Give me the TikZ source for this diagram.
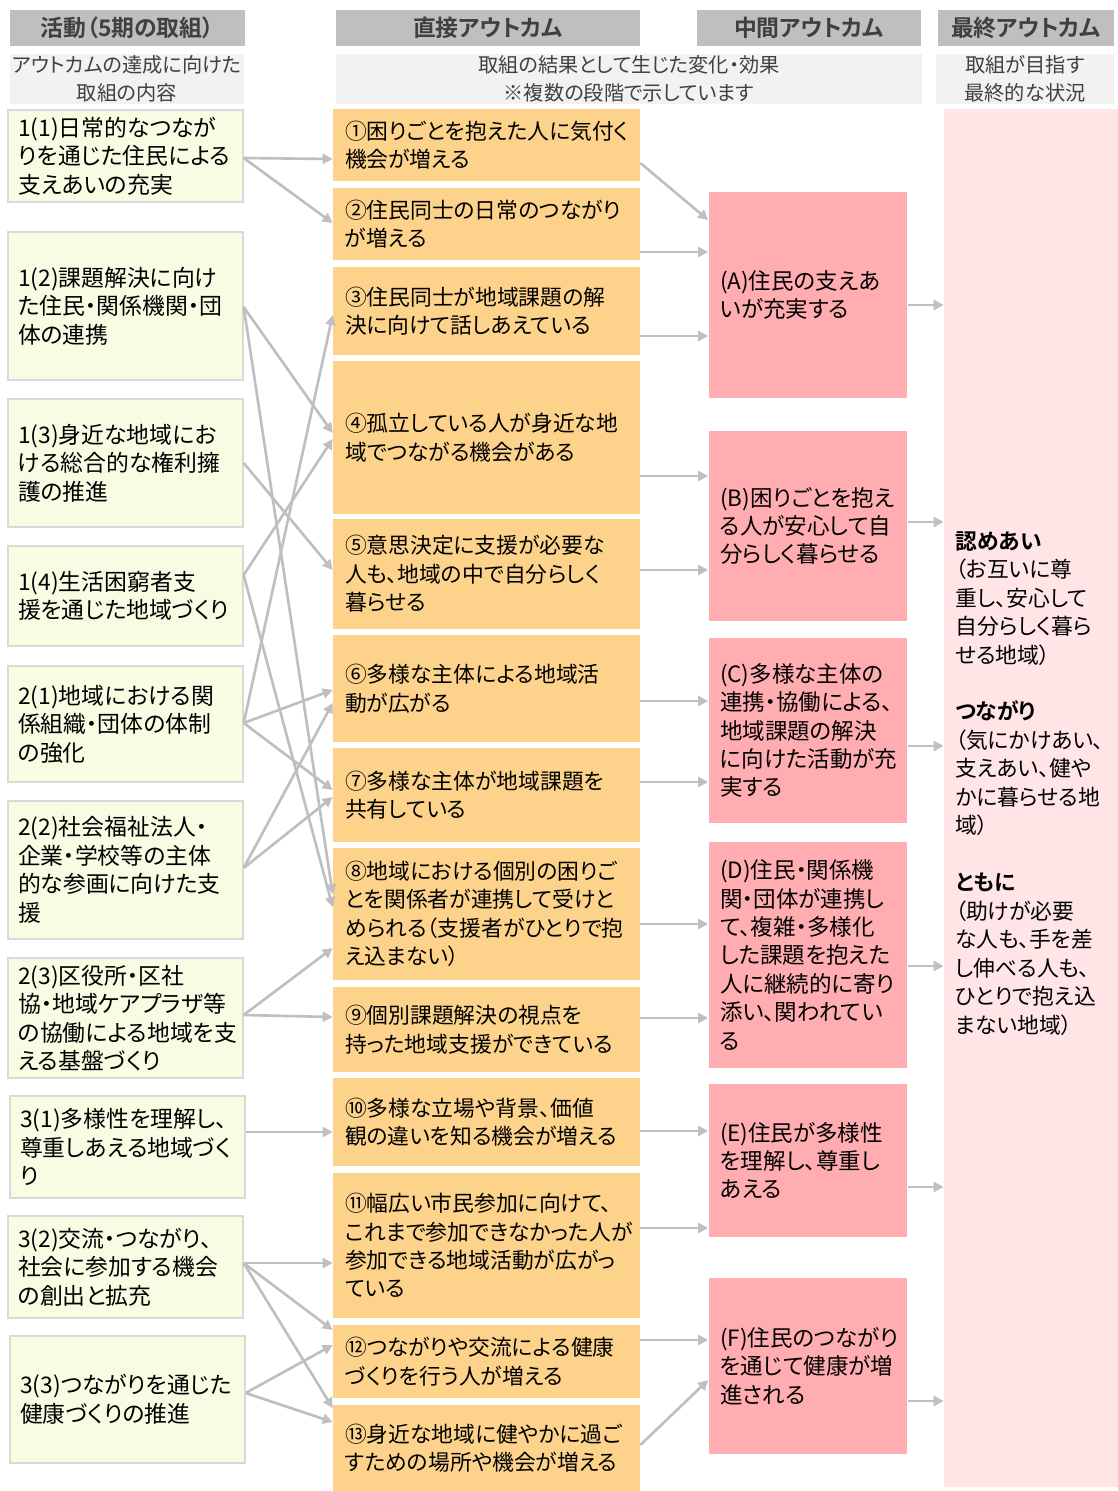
\documentclass[tikz,border=0pt]{standalone}
\usepackage{fontspec}
\setmainfont{Noto Sans CJK JP}[RawFeature=+palt, BoldFont={Noto Sans CJK JP Bold}]
\usetikzlibrary{arrows.meta}

\definecolor{hdgray}{HTML}{BFBFBF}
\definecolor{subgray}{HTML}{F2F2F2}
\definecolor{actfill}{HTML}{F8FCE3}
\definecolor{actline}{HTML}{D9D9D9}
\definecolor{dirfill}{HTML}{FDD38B}
\definecolor{midfill}{HTML}{FFADB0}
\definecolor{finfill}{HTML}{FFE5E5}
\definecolor{arrgray}{HTML}{BFBFBF}
\definecolor{hdtext}{HTML}{404040}

\begin{document}
\begin{tikzpicture}[x=0.02cm, y=-0.02cm,
  every node/.style={font=\fontsize{13}{16.2}\selectfont, inner sep=0pt},
  head/.style={fill=hdgray, minimum height=0.72cm, text=hdtext, font=\fontsize{13}{16}\selectfont\bfseries},
  sub/.style={fill=subgray, minimum height=1cm, align=center, text=hdtext, font=\fontsize{11.5}{15.9}\selectfont},
  act/.style={fill=actfill, draw=actline, line width=0.8pt, minimum width=4.7cm, text width=4.3cm, align=left},
  direct/.style={fill=dirfill, minimum width=6.14cm, text width=5.66cm, align=left, font=\fontsize{12.4}{16.2}\selectfont},
  mid/.style={fill=midfill, minimum width=3.98cm, text width=3.52cm, align=left, font=\fontsize{12.8}{16.2}\selectfont},
  link/.style={draw=arrgray, line width=1.5pt, -{Triangle[length=0.2cm, width=0.2cm]}}]
  \useasboundingbox (0,0) rectangle (1118,1491);

  % column heads
  \node[head, minimum width=4.7cm] (h1) at (127.5,28) {活動（5期の取組）};
  \node[head, minimum width=6.08cm] (h2) at (488,28) {直接アウトカム};
  \node[head, minimum width=4.48cm] (h3) at (809,28) {中間アウトカム};
  \node[head, minimum width=3.52cm] (h4) at (1026,28) {最終アウトカム};
  \node[sub, minimum width=4.68cm] (s1) at (127,79) {アウトカムの達成に向けた\\取組の内容};
  \node[sub, minimum width=11.72cm] (s2) at (629,79) {取組の結果として生じた変化・効果\\※複数の段階で示しています};
  \node[sub, minimum width=3.56cm] (s4) at (1025,79) {取組が目指す\\最終的な状況};

  % activities
  \node[act, minimum height=1.84cm] (l1) at (125.5,156) {1(1)日常的なつなが\\りを通じた住民による\\支えあいの充実};
  \node[act, minimum height=2.96cm] (l2) at (125.5,306) {1(2)課題解決に向け\\た住民・関係機関・団\\体の連携};
  \node[act, minimum height=2.56cm] (l3) at (125.5,463) {1(3)身近な地域にお\\ける総合的な権利擁\\護の推進};
  \node[act, minimum height=2.0cm] (l4) at (125.5,596) {1(4)生活困窮者支\\援を通じた地域づくり};
  \node[act, minimum height=2.32cm] (l5) at (125.5,724) {2(1)地域における関\\係組織・団体の体制\\の強化};
  \node[act, minimum height=2.76cm] (l6) at (125.5,870) {2(2)社会福祉法人・\\企業・学校等の主体\\的な参画に向けた支\\援};
  \node[act, minimum height=2.4cm] (l7) at (125.5,1018) {2(3)区役所・区社\\協・地域ケアプラザ等\\の協働による地域を支\\える基盤づくり};
  \node[act, minimum height=2.04cm] (l8) at (127.5,1147) {3(1)多様性を理解し、\\尊重しあえる地域づく\\り};
  \node[act, minimum height=2.04cm] (l9) at (125.5,1267) {3(2)交流・つながり、\\社会に参加する機会\\の創出と拡充};
  \node[act, minimum height=2.54cm] (l10) at (127.5,1399.5) {3(3)つながりを通じた\\健康づくりの推進};

  % direct outcomes
  \node[direct, minimum height=1.44cm] (o1) at (486.5,145) {①困りごとを抱えた人に気付く\\機会が増える};
  \node[direct, minimum height=1.44cm] (o2) at (486.5,224) {②住民同士の日常のつながり\\が増える};
  \node[direct, minimum height=1.76cm] (o3) at (486.5,311) {③住民同士が地域課題の解\\決に向けて話しあえている};
  \node[direct, minimum height=3.06cm] (o4) at (486.5,437.5) {④孤立している人が身近な地\\域でつながる機会がある};
  \node[direct, minimum height=2.2cm] (o5) at (486.5,574) {⑤意思決定に支援が必要な\\人も、地域の中で自分らしく\\暮らせる};
  \node[direct, minimum height=2.14cm] (o6) at (486.5,688.5) {⑥多様な主体による地域活\\動が広がる};
  \node[direct, minimum height=1.88cm] (o7) at (486.5,795) {⑦多様な主体が地域課題を\\共有している};
  \node[direct, minimum height=2.64cm] (o8) at (486.5,914) {⑧地域における個別の困りご\\とを関係者が連携して受けと\\められる（支援者がひとりで抱\\え込まない）};
  \node[direct, minimum height=1.7cm] (o9) at (486.5,1029.5) {⑨個別課題解決の視点を\\持った地域支援ができている};
  \node[direct, minimum height=1.76cm] (o10) at (486.5,1122) {⑩多様な立場や背景、価値\\観の違いを知る機会が増える};
  \node[direct, minimum height=2.9cm] (o11) at (486.5,1245.5) {⑪幅広い市民参加に向けて、\\これまで参加できなかった人が\\参加できる地域活動が広がっ\\ている};
  \node[direct, minimum height=1.46cm] (o12) at (486.5,1361.5) {⑫つながりや交流による健康\\づくりを行う人が増える};
  \node[direct, minimum height=1.72cm] (o13) at (486.5,1448) {⑬身近な地域に健やかに過ご\\すための場所や機会が増える};

  % intermediate outcomes
  \node[mid, minimum height=4.12cm] (A) at (808,295) {(A)住民の支えあ\\いが充実する};
  \node[mid, minimum height=3.8cm] (B) at (808,526) {(B)困りごとを抱え\\る人が安心して自\\分らしく暮らせる};
  \node[mid, minimum height=3.7cm] (C) at (808,730.5) {(C)多様な主体の\\連携・協働による、\\地域課題の解決\\に向けた活動が充\\実する};
  \node[mid, minimum height=4.52cm] (D) at (808,955) {(D)住民・関係機\\関・団体が連携し\\て、複雑・多様化\\した課題を抱えた\\人に継続的に寄り\\添い、関われてい\\る};
  \node[mid, minimum height=3.06cm] (E) at (808,1160.5) {(E)住民が多様性\\を理解し、尊重し\\あえる};
  \node[mid, minimum height=3.52cm] (F) at (808,1366) {(F)住民のつながり\\を通じて健康が増\\進される};

  % final outcome
  \node[fill=finfill, minimum width=3.48cm, minimum height=27.56cm] (fin) at (1031,798) {};
  \node[anchor=north west, text width=3.1cm, align=left, font=\fontsize{12.4}{16.2}\selectfont] (fintext) at (955,531)
    {\textbf{認めあい}\\（お互いに尊\\重し、安心して\\自分らしく暮ら\\せる地域）\\[16.2pt]
     \textbf{つながり}\\（気にかけあい、\\支えあい、健や\\かに暮らせる地\\域）\\[16.2pt]
     \textbf{ともに}\\（助けが必要\\な人も、手を差\\し伸べる人も、\\ひとりで抱え込\\まない地域）};

  \foreach \s/\sy/\t/\ty in {l1/158/o1/159, l1/158/o2/223, l2/307/o4/433, l2/307/o8/894,
      l3/463/o5/570, l4/575/o4/439, l4/575/o8/907, l5/723/o3/315, l5/723/o6/690,
      l5/723/o7/790, l6/868/o6/703, l6/868/o7/797, l7/1015/o8/948, l7/1015/o9/1017,
      l8/1132/o10/1132, l9/1263/o11/1263, l9/1263/o12/1330, l9/1263/o13/1408,
      l10/1393/o12/1345, l10/1393/o13/1422}
    \draw[link] (\s.east |- 0,\sy) -- (\t.west |- 0,\ty);

  \foreach \s/\sy/\t/\ty in {o1/163/A/220, o2/252/A/252, o3/336/A/336, o4/476/B/476,
      o5/570/B/570, o6/701/C/701, o7/782/C/782, o8/924/D/924, o9/1018/D/1018,
      o10/1131/E/1131, o11/1228/E/1228, o12/1340/F/1340, o13/1445/F/1380}
    \draw[link] (\s.east |- 0,\sy) -- (\t.west |- 0,\ty);

  \foreach \s/\y in {A/305, B/522, C/746, D/966, E/1187, F/1401}
    \draw[link] (\s.east |- 0,\y) -- (fin.west |- 0,\y);
\end{tikzpicture}
\end{document}
